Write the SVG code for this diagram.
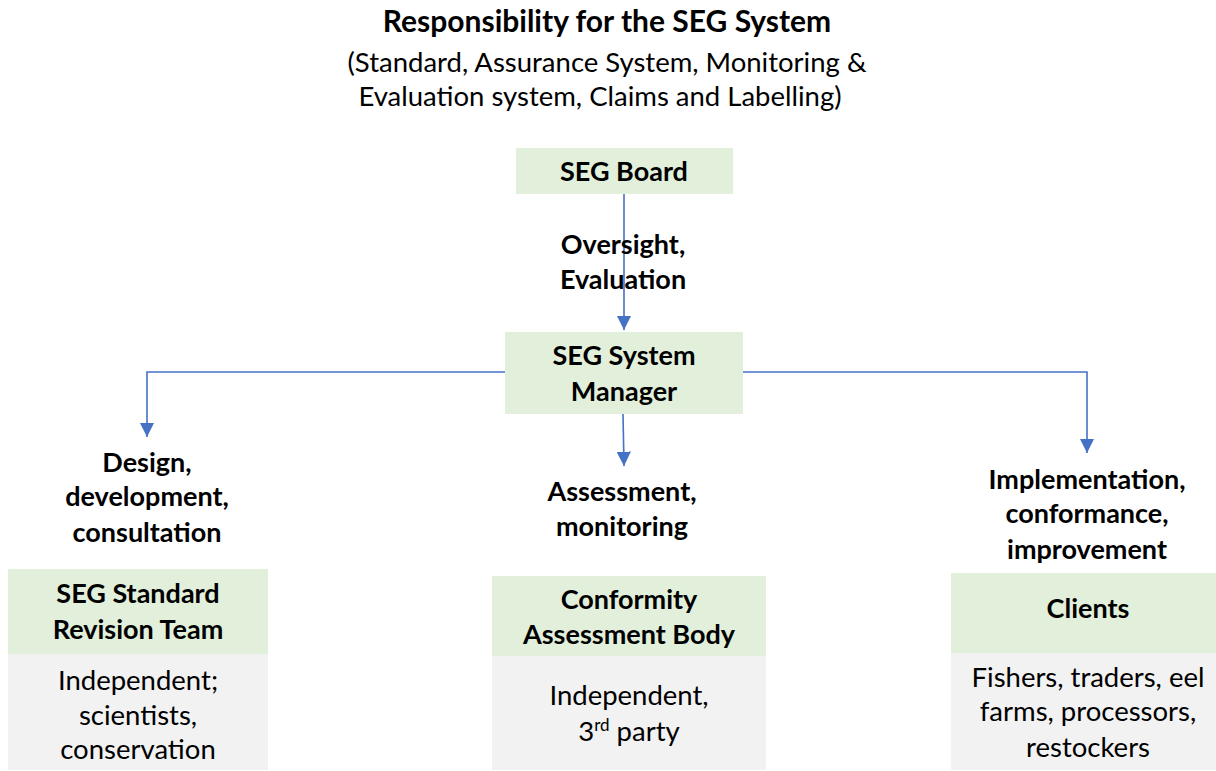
<svg xmlns="http://www.w3.org/2000/svg" width="1216" height="771" viewBox="0 0 1216 771">
<defs>
<marker id="arr" viewBox="0 0 10 10" refX="10" refY="5" markerWidth="9" markerHeight="9" markerUnits="strokeWidth" orient="auto"><path d="M0,0 L10,5 L0,10 z" fill="#4472C4"/></marker>
<style>
text{font-family:Lato,"Open Sans","Liberation Sans",sans-serif;fill:#000;text-anchor:middle}
.t{font-size:30px;font-weight:bold}
.s{font-size:27.5px}
.b{font-size:27px;font-weight:bold}
.n{font-size:27.5px}
.g{fill:#E2EFDA}
.h{fill:#F2F2F2}
.c{fill:none;stroke:#4472C4;stroke-width:1.6;marker-end:url(#arr)}
</style>
</defs>
<rect width="1216" height="771" fill="#fff"/>
<g id="title">
<text class="t" x="607" y="32">Responsibility for the SEG System</text>
<text class="s" x="607" y="72">(Standard, Assurance System, Monitoring &amp;</text>
<text class="s" x="600" y="106">Evaluation system, Claims and Labelling)</text>
</g>
<g id="connectors">
<path class="c" d="M624,194 V330"/>
<path class="c" d="M505,372 H147 V437"/>
<path class="c" d="M743,372 H1087 V453"/>
<path class="c" d="M623,414 L624,466"/>
</g>
<g id="board">
<rect class="g" x="516" y="148" width="217" height="46"/>
<text class="b" x="624" y="181">SEG Board</text>
</g>
<g id="label-oversight">
<text class="b" x="623" y="254">Oversight,</text>
<text class="b" x="623" y="289">Evaluation</text>
</g>
<g id="manager">
<rect class="g" x="505" y="332" width="238" height="82"/>
<text class="b" x="624" y="365">SEG System</text>
<text class="b" x="624" y="401">Manager</text>
</g>
<g id="label-design">
<text class="b" x="147" y="472">Design,</text>
<text class="b" x="147" y="506">development,</text>
<text class="b" x="147" y="542">consultation</text>
</g>
<g id="label-assessment">
<text class="b" x="622" y="501">Assessment,</text>
<text class="b" x="622" y="536">monitoring</text>
</g>
<g id="label-implementation">
<text class="b" x="1087" y="489">Implementation,</text>
<text class="b" x="1087" y="523">conformance,</text>
<text class="b" x="1087" y="559">improvement</text>
</g>
<g id="revision-team">
<rect class="g" x="8" y="569" width="260" height="85"/>
<rect class="h" x="8" y="654" width="260" height="116"/>
<text class="b" x="138" y="603">SEG Standard</text>
<text class="b" x="138" y="639">Revision Team</text>
<text class="n" x="138" y="690">Independent;</text>
<text class="n" x="138" y="725">scientists,</text>
<text class="n" x="138" y="759">conservation</text>
</g>
<g id="cab">
<rect class="g" x="492" y="576" width="274" height="80"/>
<rect class="h" x="492" y="656" width="274" height="114"/>
<text class="b" x="629" y="609">Conformity</text>
<text class="b" x="629" y="644">Assessment Body</text>
<text class="n" x="629" y="705">Independent,</text>
<text class="n" x="629" y="741">3<tspan font-size="17" dy="-10">rd</tspan><tspan dy="10"> party</tspan></text>
</g>
<g id="clients">
<rect class="g" x="951" y="573" width="265" height="80"/>
<rect class="h" x="951" y="653" width="265" height="117"/>
<text class="b" x="1088" y="618">Clients</text>
<text class="n" x="1088" y="687">Fishers, traders, eel</text>
<text class="n" x="1088" y="721">farms, processors,</text>
<text class="n" x="1088" y="757">restockers</text>
</g>
</svg>
